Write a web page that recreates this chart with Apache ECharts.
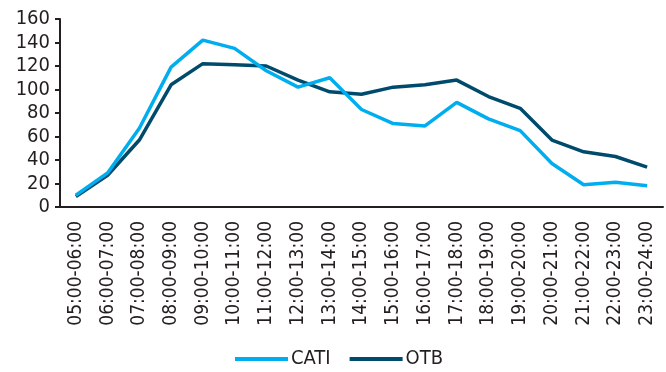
<!DOCTYPE html>
<html>
<head>
<meta charset="utf-8">
<script src="https://cdn.jsdelivr.net/npm/echarts@6/dist/echarts.min.js"></script>
<style>
  html, body { margin: 0; padding: 0; background: #fff; }
  #chart { width: 666px; height: 372px; }
</style>
</head>
<body>
<div id="chart"></div>
<script>
var hours = [
    "05:00-06:00", "06:00-07:00", "07:00-08:00", "08:00-09:00", "09:00-10:00",
    "10:00-11:00", "11:00-12:00", "12:00-13:00", "13:00-14:00", "14:00-15:00",
    "15:00-16:00", "16:00-17:00", "17:00-18:00", "18:00-19:00", "19:00-20:00",
    "20:00-21:00", "21:00-22:00", "22:00-23:00", "23:00-24:00"
]
var cati = [10, 29, 67, 119, 142, 135, 116, 102, 110, 83, 71, 69, 89, 75, 65, 37, 19, 21, 18]
var otb = [9, 27, 57, 104, 122, 121, 120, 108, 98, 96, 102, 104, 108, 94, 84, 57, 47, 43, 34]

var font = "'Liberation Sans Narrow', 'Arial Narrow', 'DejaVu Sans Condensed', sans-serif"
var axis_color = '#231f20'

var option = {
    animation: false,
    grid: {
        left: 60,
        right: 3,
        top: 19,
        bottom: 165,
        containLabel: false,
    },
    legend: {
        bottom: -2,
        left: 230,
        itemWidth: 53,
        itemHeight: 4,
        itemGap: 19,
        icon: 'rect',
        textStyle: {
            fontFamily: font,
            fontSize: 20,
            color: axis_color,
            padding: [0, 0, 0, -2],
        },
        data: ['CATI', 'OTB'],
    },
    xAxis: {
        type: 'category',
        data: hours,
        boundaryGap: true,
        axisLine: { lineStyle: { color: axis_color, width: 2 } },
        axisTick: { alignWithLabel: false, length: 5, lineStyle: { color: axis_color, width: 2 } },
        axisLabel: {
            rotate: 90,
            interval: 0,
            margin: 14,
            fontFamily: font,
            fontSize: 19,
            color: axis_color,
        },
    },
    yAxis: {
        type: 'value',
        min: 0,
        max: 160,
        interval: 20,
        splitLine: { show: false },
        axisLine: { show: true, lineStyle: { color: axis_color, width: 2 } },
        axisTick: { show: true, length: 5, lineStyle: { color: axis_color, width: 2 } },
        axisLabel: {
            margin: 10,
            fontFamily: font,
            fontSize: 20,
            color: axis_color,
        },
    },
    series: [
        {
            name: 'CATI',
            type: 'line',
            data: cati,
            showSymbol: false,
            lineStyle: { color: '#00aeef', width: 3.5 },
            itemStyle: { color: '#00aeef' },
            z: 3,
        },
        {
            name: 'OTB',
            type: 'line',
            data: otb,
            showSymbol: false,
            lineStyle: { color: '#004b6b', width: 3.5 },
            itemStyle: { color: '#004b6b' },
            z: 2,
        },
    ],
}

var myChart = echarts.init(document.getElementById('chart'))
myChart.setOption(option, true)
</script>
</body>
</html>
